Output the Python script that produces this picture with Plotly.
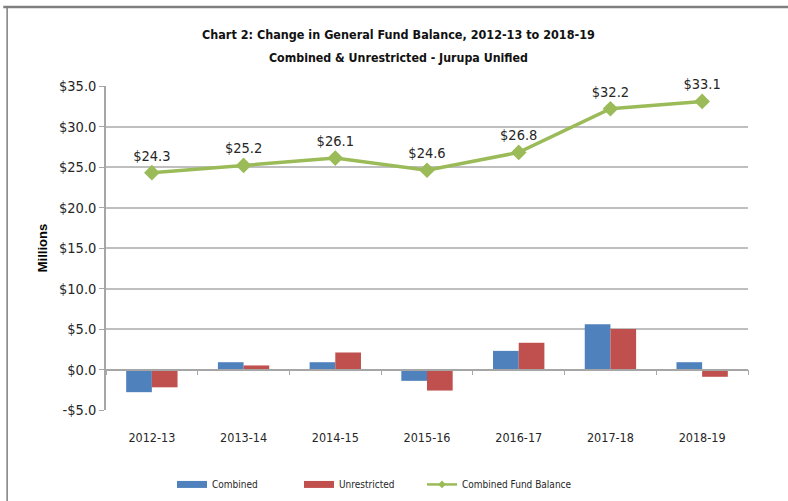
import plotly.graph_objects as go

categories = ["2012-13", "2013-14", "2014-15", "2015-16", "2016-17", "2017-18", "2018-19"]
combined = [-2.8, 0.9, 0.9, -1.4, 2.3, 5.6, 0.9]
unrestricted = [-2.2, 0.5, 2.1, -2.6, 3.3, 5.0, -0.9]
fund_balance = [24.3, 25.2, 26.1, 24.6, 26.8, 32.2, 33.1]
y_ticks = [-5, 0, 5, 10, 15, 20, 25, 30, 35]
y_tick_labels = ["-$5.0", "$0.0", "$5.0", "$10.0", "$15.0", "$20.0", "$25.0", "$30.0", "$35.0"]

NARROW = "DejaVu Sans Condensed, Liberation Sans Narrow, sans-serif"
BLUE, RED, GREEN = "#4F81BD", "#C0504D", "#9BBB59"

fig = go.Figure()
fig.add_trace(go.Bar(x=categories, y=combined, name="Combined", showlegend=False,
                     marker=dict(color=BLUE, line=dict(width=0))))
fig.add_trace(go.Bar(x=categories, y=unrestricted, name="Unrestricted", showlegend=False,
                     marker=dict(color=RED, line=dict(width=0))))
fig.add_trace(go.Scatter(x=categories, y=fund_balance, name="Combined Fund Balance",
                         mode="lines+markers+text", showlegend=False, cliponaxis=False,
                         line=dict(color=GREEN, width=3.5),
                         marker=dict(symbol="diamond", size=12, color=GREEN),
                         text=[f"${v:.1f}" for v in fund_balance],
                         textposition="top center",
                         textfont=dict(family=NARROW, size=14.5, color="#262626")))
# legend keys (wide swatches like the original)
fig.add_trace(go.Scatter(x=[None], y=[None], name="Combined", mode="lines",
                         line=dict(color=BLUE, width=7), legend="legend"))
fig.add_trace(go.Scatter(x=[None], y=[None], name="Unrestricted", mode="lines",
                         line=dict(color=RED, width=7), legend="legend"))
fig.add_trace(go.Scatter(x=[None], y=[None], name="Combined Fund Balance", mode="lines+markers",
                         line=dict(color=GREEN, width=2.5),
                         marker=dict(symbol="diamond", size=6, color=GREEN), legend="legend2"))
# invisible trace to carry the category axis drawn at zero
fig.add_trace(go.Scatter(x=categories, y=[0]*len(categories), xaxis="x2", mode="markers",
                         marker=dict(opacity=0), showlegend=False, hoverinfo="skip"))

legend_font = dict(family=NARROW, size=10, color="#262626")
fig.update_layout(
    width=788, height=501,
    margin=dict(l=106, r=40, t=86, b=91),
    paper_bgcolor="white", plot_bgcolor="white",
    barmode="group", bargap=0.44, bargroupgap=0,
    xaxis=dict(type="category", showgrid=False, showline=False, ticks="",
               ticklabelstandoff=18,
               tickfont=dict(family=NARROW, size=12.5, color="#262626")),
    xaxis2=dict(type="category", overlaying="x", matches="x", anchor="free", position=0.125,
                showticklabels=False, ticks="outside", tickson="boundaries", ticklen=5,
                tickcolor="#A6A6A6", showline=True, linecolor="#A6A6A6", linewidth=1.5,
                showgrid=False),
    yaxis=dict(range=[-5, 35], tickvals=y_ticks, ticktext=y_tick_labels,
               showgrid=True, gridcolor="#BFBFBF", gridwidth=1.5, zeroline=False,
               showline=True, linecolor="#A6A6A6", linewidth=1.5,
               ticks="outside", ticklen=5, tickcolor="#A6A6A6",
               tickfont=dict(family=NARROW, size=14.5, color="#262626"),
               title=dict(text="<b>Millions</b>", font=dict(family="Arial, sans-serif", size=13, color="#000"),
                          standoff=8)),
    legend=dict(orientation="h", x=(172 - 106) / 642, xanchor="left", yref="container", y=0.062, yanchor="top",
                font=legend_font, itemwidth=30, traceorder="normal",
                entrywidth=82, entrywidthmode="pixels"),
    legend2=dict(orientation="h", x=(422 - 106) / 642, xanchor="left", yref="container", y=0.062, yanchor="top",
                 font=legend_font, itemwidth=30),
    annotations=[
        dict(text="<b>Chart 2: Change in General Fund Balance, 2012-13 to 2018-19</b>",
             xref="paper", yref="paper", x=(398 - 106) / 642, y=(410 - 35) / 324, showarrow=False,
             xanchor="center", yanchor="middle",
             font=dict(family=NARROW, size=12.5, color="#111")),
        dict(text="<b>Combined & Unrestricted - Jurupa Unified</b>",
             xref="paper", yref="paper", x=(398 - 106) / 642, y=(410 - 58) / 324, showarrow=False,
             xanchor="center", yanchor="middle",
             font=dict(family=NARROW, size=12.3, color="#111")),
    ],
    shapes=[
        dict(type="line", xref="paper", yref="paper", x0=-0.16, x1=1.07, y0=(410 - 7) / 324, y1=(410 - 7) / 324,
             line=dict(color="#7F7F7F", width=2.5)),
        dict(type="line", xref="paper", yref="paper", x0=-0.154, x1=-0.154, y0=(410 - 7) / 324, y1=-0.3,
             line=dict(color="#7F7F7F", width=1.5)),
    ],
)

fig.write_html("out.html", config={"displayModeBar": False})
with open("out.html", "r", encoding="utf-8") as f:
    html = f.read()
html = html.replace("<body>", '<body style="margin:0;overflow:hidden">', 1)
with open("out.html", "w", encoding="utf-8") as f:
    f.write(html)
